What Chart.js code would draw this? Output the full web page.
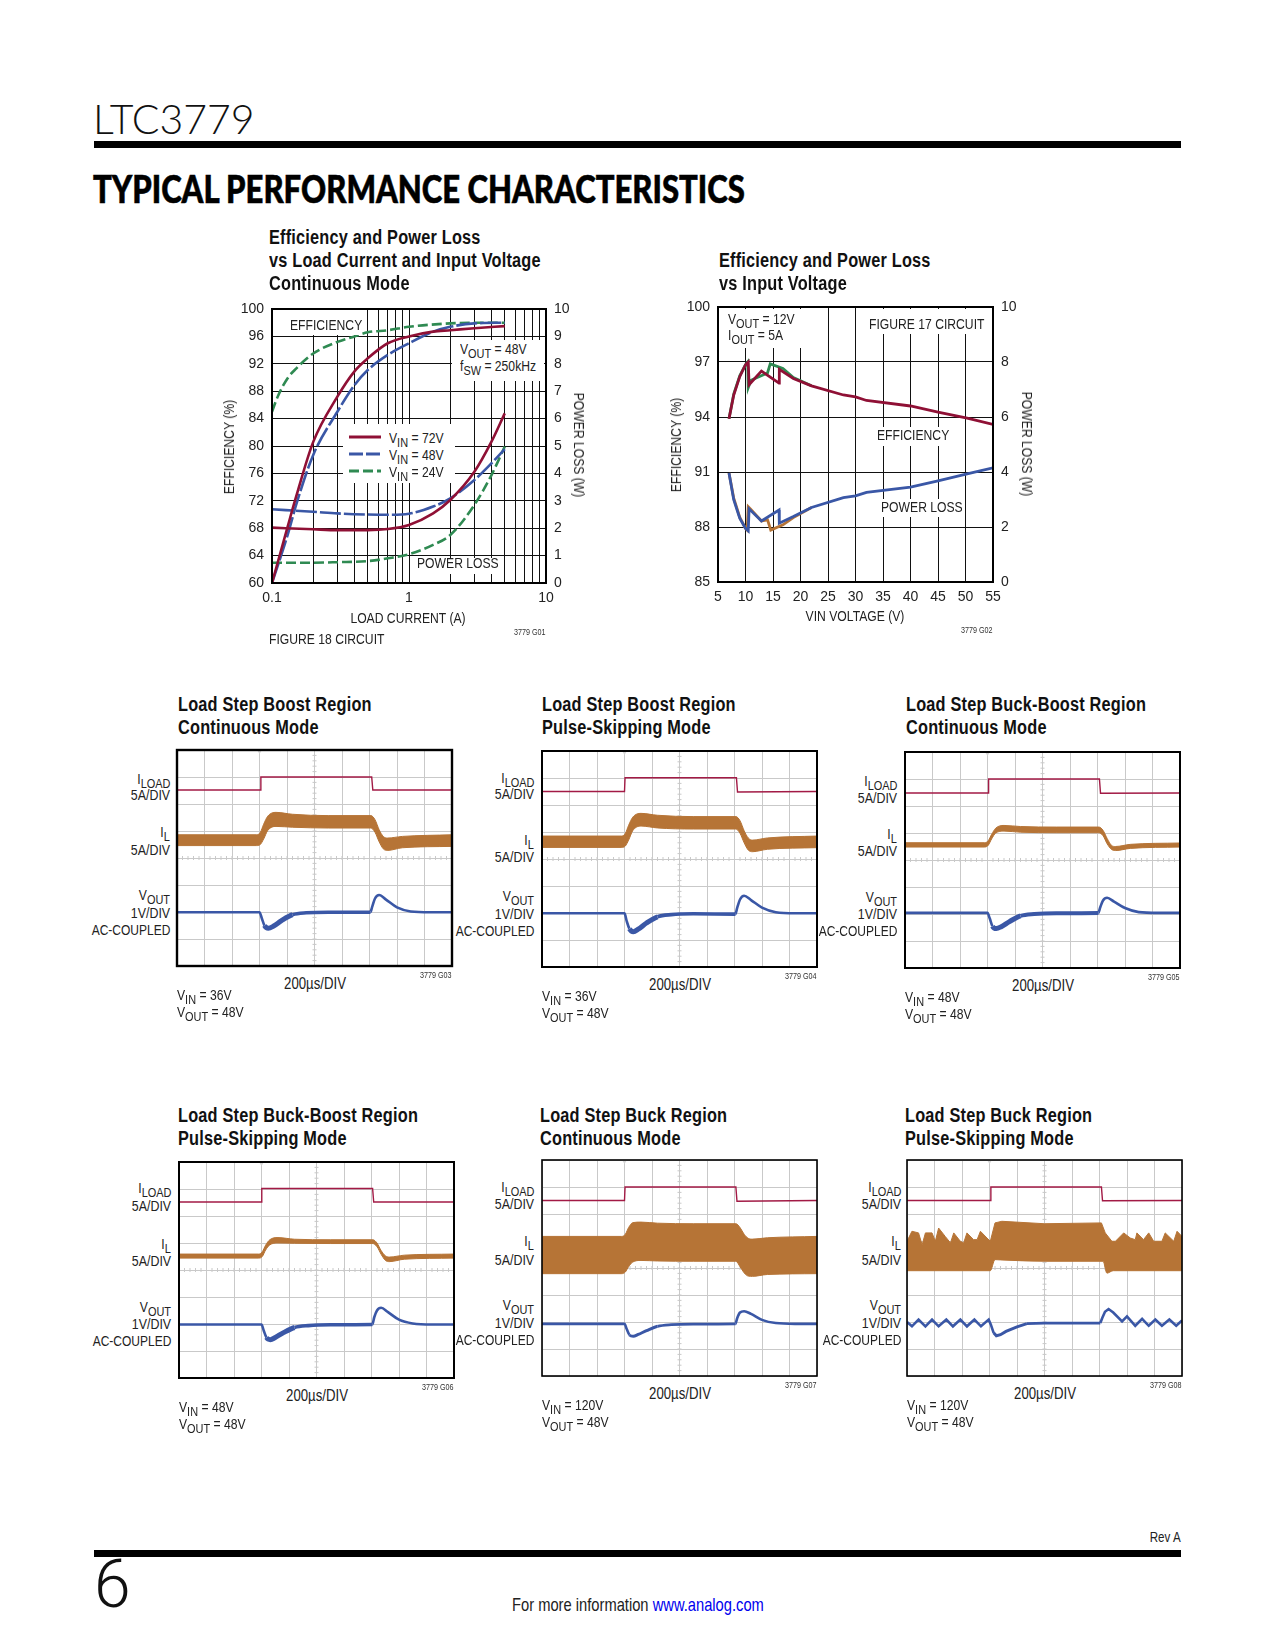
<!DOCTYPE html>
<html>
<head>
<meta charset="utf-8">
<title>LTC3779</title>
<script src="https://cdn.jsdelivr.net/npm/chart.js@4"></script>
<style>
  html, body { margin: 0; padding: 0; background: #fff; }
  #page { position: relative; width: 1275px; height: 1650px; overflow: hidden; background: #fff; color: #222;
          font-family: "Liberation Sans", sans-serif; }
  #page canvas { position: absolute; }
  .t { position: absolute; white-space: nowrap; font-size: 15.2px; line-height: 16px; height: 16px; }
  .title { font-weight: bold; font-size: 20px; line-height: 23px; height: 23px; color: #111; letter-spacing: .25px; }
  .small { font-size: 9px; color: #333; }
  .box { position: absolute; background: #fff; }
  .bar { position: absolute; background: #000; left: 94px; width: 1087px; height: 7px; }
  sub { font-size: .9em; vertical-align: -0.28em; line-height: 0; }
</style>
</head>
<body>
<div id="page"></div>
<script>
// ---- efficiency vs load current (G01) ----
const g01_grid_x = [0.1, 0.2, 0.3, 0.4, 0.5, 0.6, 0.7, 0.8, 0.9, 1, 2, 3, 4, 5, 6, 7, 8, 9, 10];
const g01_labels_x = [0.1, 1, 10];
const g01_eff_72_x = [0.1, 0.13, 0.15, 0.2, 0.3, 0.4, 0.5, 0.7, 1, 1.5, 2, 3, 5];
const g01_eff_72 = [60, 68.2, 72.6, 80.6, 87.2, 90.9, 92.8, 95, 96, 96.7, 96.9, 97.2, 97.5];
const g01_eff_48_x = [0.1, 0.13, 0.15, 0.2, 0.3, 0.4, 0.5, 0.7, 1, 1.5, 2, 3, 5];
const g01_eff_48 = [60, 67, 71.4, 78.7, 85, 88.9, 91.1, 93.3, 95, 96.7, 97.4, 97.9, 98];
const g01_eff_24_x = [0.1, 0.11, 0.13, 0.15, 0.2, 0.3, 0.4, 0.5, 0.7, 1, 2, 3, 5];
const g01_eff_24 = [85, 87.2, 89.9, 91.3, 93.5, 95.2, 96, 96.6, 96.9, 97.4, 97.9, 98, 98];
const g01_loss_x = [0.1, 0.2, 0.3, 0.5, 0.7, 1, 1.5, 2, 3, 4, 5];
const g01_loss_72 = [2.02, 1.96, 1.93, 1.93, 1.97, 2.12, 2.54, 3.03, 4.06, 5.16, 6.19];
const g01_loss_48 = [2.69, 2.6, 2.54, 2.5, 2.49, 2.53, 2.79, 3.09, 3.76, 4.37, 4.89];
const g01_loss_24 = [0.74, 0.74, 0.76, 0.8, 0.9, 1.05, 1.39, 1.75, 2.85, 3.94, 4.98];

// ---- efficiency vs input voltage (G02) ----
const g02_eff_x = [7, 7.86, 8.95, 10, 10.5, 10.65, 12.9, 16.1, 16.15, 18.7, 22, 27.8, 30, 32, 40, 45, 50.3, 55];
const g02_eff = [93.9, 95.2, 96.2, 96.85, 97, 95.76, 96.5, 95.85, 96.6, 96.1, 95.7, 95.2, 95.1, 94.9, 94.6, 94.27, 93.94, 93.6];
const g02_eff_alt_x = [7, 7.86, 8.95, 10, 10.4, 10.5, 11, 14, 14.5, 16.8, 18.7, 22];
const g02_eff_alt = [93.9, 95.25, 96.25, 96.85, 97, 95.6, 96, 96.4, 96.9, 96.65, 96.15, 95.7];
const g02_loss_x = [7, 7.86, 8.95, 10, 10.5, 10.65, 12.9, 16.1, 16.15, 18.7, 22, 27.8, 30, 32, 40, 45, 50.3, 55];
const g02_loss = [3.96, 2.99, 2.32, 1.95, 1.86, 2.66, 2.22, 2.62, 2.14, 2.38, 2.71, 3.07, 3.13, 3.26, 3.45, 3.68, 3.93, 4.15];
const g02_loss_alt_x = [7, 7.86, 8.95, 10, 10.3, 10.5, 10.9, 12.9, 14, 14.6, 16.8, 18.7, 22];
const g02_loss_alt = [3.96, 3.05, 2.36, 1.95, 1.89, 2.74, 2.66, 2.22, 2.26, 1.89, 2.08, 2.34, 2.71];

// ---- load step scope shots, x and y in divisions ----
const il_x = [0, 2.9, 3.03, 3.15, 3.3, 3.6, 4.2, 5.5, 7.05, 7.2, 7.35, 7.5, 7.65, 8.2, 10];
const vout_x = [0, 3, 3.08, 3.18, 3.32, 3.5, 3.8, 4.2, 4.7, 5.5, 7.03, 7.1, 7.2, 7.35, 7.6, 8, 8.5, 9.2, 10];

const g03_iload_x = [0, 3.03, 3.05, 7.08, 7.12, 10];
const g03_iload = [6.52, 6.52, 7, 7, 6.52, 6.52];
const g03_il_hi = [4.86, 4.86, 4.95, 5.25, 5.55, 5.69, 5.62, 5.57, 5.57, 5.42, 5.05, 4.8, 4.74, 4.8, 4.86];
const g03_il_lo = [4.46, 4.46, 4.5, 4.7, 5.02, 5.17, 5.14, 5.11, 5.11, 4.95, 4.6, 4.34, 4.28, 4.38, 4.43];
const g03_vout = [1.99, 1.99, 1.78, 1.5, 1.4, 1.47, 1.68, 1.9, 1.97, 1.99, 1.99, 2.2, 2.5, 2.63, 2.46, 2.17, 2.02, 1.99, 1.99];

const g04_iload_x = [0, 3, 3.02, 7.07, 7.11, 10];
const g04_iload = [6.5, 6.5, 7.01, 7.01, 6.48, 6.5];
const g04_il_hi = [4.85, 4.85, 4.95, 5.25, 5.55, 5.69, 5.62, 5.57, 5.57, 5.42, 5.05, 4.78, 4.7, 4.78, 4.85];
const g04_il_lo = [4.43, 4.43, 4.48, 4.7, 5.05, 5.22, 5.15, 5.11, 5.11, 4.95, 4.6, 4.33, 4.27, 4.36, 4.42];
const g04_vout = [1.99, 1.99, 1.7, 1.42, 1.31, 1.4, 1.63, 1.86, 1.94, 1.97, 1.96, 2.2, 2.5, 2.64, 2.48, 2.2, 2.03, 1.99, 1.99];

const g05_iload_x = [0, 3.02, 3.04, 7.07, 7.11, 10];
const g05_iload = [6.48, 6.48, 7, 7, 6.47, 6.48];
const g05_il_hi = [4.64, 4.64, 4.72, 4.95, 5.18, 5.28, 5.24, 5.22, 5.22, 5.1, 4.8, 4.55, 4.5, 4.58, 4.63];
const g05_il_lo = [4.48, 4.48, 4.55, 4.78, 5, 5.07, 5.03, 5.01, 5.01, 4.9, 4.6, 4.4, 4.35, 4.43, 4.48];
const g05_vout = [2.04, 2.04, 1.84, 1.55, 1.46, 1.53, 1.72, 1.93, 2, 2.03, 2.04, 2.25, 2.5, 2.6, 2.46, 2.22, 2.07, 2.04, 2.04];

const g06_iload_x = [0, 2.99, 3.01, 7.04, 7.08, 10];
const g06_iload = [6.52, 6.52, 7.02, 7.02, 6.52, 6.52];
const g06_il_hi = [4.59, 4.59, 4.68, 4.92, 5.12, 5.2, 5.14, 5.12, 5.12, 5, 4.72, 4.53, 4.48, 4.55, 4.59];
const g06_il_lo = [4.44, 4.44, 4.5, 4.74, 4.93, 5, 4.99, 4.98, 4.98, 4.86, 4.58, 4.36, 4.31, 4.4, 4.44];
const g06_vout = [1.98, 1.98, 1.76, 1.5, 1.42, 1.5, 1.68, 1.87, 1.94, 1.97, 1.98, 2.25, 2.5, 2.6, 2.44, 2.16, 2.02, 1.98, 1.98];

const g07_iload_x = [0, 3, 3.02, 7.05, 7.09, 10];
const g07_iload = [6.5, 6.5, 7, 7, 6.47, 6.5];
const g07_il_hi = [5.17, 5.17, 5.25, 5.5, 5.68, 5.7, 5.66, 5.64, 5.64, 5.5, 5.25, 5.1, 5.07, 5.12, 5.17];
const g07_il_lo = [3.79, 3.79, 3.85, 4.05, 4.22, 4.28, 4.26, 4.25, 4.25, 4.05, 3.82, 3.7, 3.69, 3.76, 3.79];
const g07_vout = [1.93, 1.93, 1.74, 1.52, 1.47, 1.54, 1.68, 1.84, 1.9, 1.92, 1.93, 2.15, 2.35, 2.4, 2.3, 2.08, 1.96, 1.93, 1.93];

const g08_iload_x = [0, 3.03, 3.05, 7.07, 7.11, 10];
const g08_iload = [6.5, 6.5, 7, 7, 6.49, 6.5];
const g08_il_hi_x = [0, .18, .42, .55, .67, .91, 1.03, 1.15, 1.39, 1.58, 1.7, 1.94, 2.06, 2.18, 2.42, 2.55, 2.67, 2.91, 3.03, 3.2, 3.45, 5, 7.07, 7.21, 7.45, 7.58, 7.88, 8.12, 8.3, 8.36, 8.6, 8.79, 8.97, 9.27, 9.39, 9.7, 9.82, 10];
const g08_il_hi = [4.99, 5.36, 5.3, 4.86, 5.3, 5.3, 4.99, 5.48, 5.17, 4.93, 5.3, 4.99, 4.93, 5.3, 5.05, 5.05, 5.36, 5.11, 4.99, 5.67, 5.73, 5.64, 5.67, 5.3, 4.99, 4.99, 5.3, 5.11, 5.05, 5.3, 5.05, 5.3, 4.99, 4.99, 5.3, 4.99, 5.36, 5.17];
const g08_il_lo_x = [0, 3.03, 3.2, 3.4, 5, 7.13, 7.27, 7.5, 10];
const g08_il_lo = [3.9, 3.9, 4.31, 4.3, 4.25, 4.25, 3.81, 3.9, 3.9];
const g08_vout_x = [0, .18, .42, .67, .91, 1.15, 1.43, 1.67, 1.94, 2.18, 2.45, 2.69, 2.97, 3.05, 3.15, 3.25, 3.4, 3.6, 4, 4.36, 5, 7.03, 7.1, 7.2, 7.33, 7.5, 7.82, 8, 8.3, 8.55, 8.79, 9.03, 9.27, 9.54, 9.79, 10];
const g08_vout = [2, 1.84, 2.09, 1.84, 2.09, 1.84, 2.09, 1.84, 2.09, 1.84, 2.09, 1.84, 2.09, 1.9, 1.6, 1.49, 1.53, 1.65, 1.82, 1.94, 1.96, 1.96, 2.15, 2.38, 2.48, 2.35, 2.02, 2.21, 1.86, 2.12, 1.86, 2.09, 1.86, 2.09, 1.86, 2.06];

const RED = "#8f1035", BLUE = "#3a57a6", GREEN = "#2f8a52", ORANGE = "#b67436", ILOAD_RED = "#a21a45", GRID = "#c9c9c9";
const NARROW = 0.8; // no narrow face installed, squeeze the sans instead
const page = document.getElementById("page");

Chart.defaults.font.family = '"Liberation Sans", sans-serif';
Chart.defaults.font.size = 14;
Chart.defaults.color = "#222";
Chart.defaults.animation = false;
Chart.defaults.responsive = false;
Chart.defaults.plugins.legend.display = false;
Chart.defaults.plugins.tooltip.enabled = false;

function pairs(xs, ys) {
  return xs.map((x, i) => ({ x: x, y: ys[i] }));
}

function label(html, x, y, opts) {
  opts = opts || {};
  const d = document.createElement("div");
  d.className = "t " + (opts.cls || "");
  d.innerHTML = html;
  const lh = opts.cls == "title" ? 23 : 16;
  const sx = "scaleX(" + (opts.cls == "title" ? 0.815 : NARROW) + ")";
  d.style.top = (y - lh / 2) + "px";
  if (opts.rotate) {
    d.style.left = x + "px";
    d.style.transform = "translate(-50%,0) rotate(" + opts.rotate + "deg) " + sx;
  } else if (opts.align == "right") {
    d.style.right = (1275 - x) + "px";
    d.style.transformOrigin = "right center";
    d.style.transform = sx;
  } else if (opts.align == "center") {
    d.style.left = x + "px";
    d.style.transform = "translateX(-50%) " + sx;
  } else {
    d.style.left = x + "px";
    d.style.transformOrigin = "left center";
    d.style.transform = sx;
  }
  page.appendChild(d);
  return d;
}

function box(x0, y0, x1, y1) {
  const d = document.createElement("div");
  d.className = "box";
  d.style.cssText = "left:" + x0 + "px;top:" + y0 + "px;width:" + (x1 - x0) + "px;height:" + (y1 - y0) + "px";
  page.appendChild(d);
}

function addCanvas(x, y, w, h) {
  const c = document.createElement("canvas");
  c.width = w;
  c.height = h;
  c.style.left = x + "px";
  c.style.top = y + "px";
  page.appendChild(c);
  return c;
}

// border round the plot, the library only draws it per axis
const plotFrame = {
  id: "plotFrame",
  afterDraw(chart, args, opts) {
    const a = chart.chartArea, ctx = chart.ctx;
    ctx.save();
    ctx.strokeStyle = "#000";
    ctx.lineWidth = opts.width || 2;
    ctx.strokeRect(a.left, a.top, a.width, a.height);
    ctx.restore();
  },
};

// the small ticks on the centre cross of a scope graticule
const scopeCross = {
  id: "scopeCross",
  beforeDatasetsDraw(chart) {
    const xs = chart.scales.x, ys = chart.scales.y, ctx = chart.ctx;
    ctx.save();
    ctx.strokeStyle = GRID;
    ctx.lineWidth = 1;
    ctx.beginPath();
    for (let i = 1; i < 50; i++) {
      const px = xs.getPixelForValue(i / 5);
      ctx.moveTo(px, ys.getPixelForValue(4) - 2);
      ctx.lineTo(px, ys.getPixelForValue(4) + 2);
    }
    for (let i = 1; i < 40; i++) {
      const py = ys.getPixelForValue(i / 5);
      ctx.moveTo(xs.getPixelForValue(5) - 2, py);
      ctx.lineTo(xs.getPixelForValue(5) + 2, py);
    }
    ctx.stroke();
    // trigger mark
    const tx = xs.getPixelForValue(3), ty = ys.getPixelForValue(8);
    ctx.fillStyle = "#d5d5d5";
    ctx.beginPath();
    ctx.moveTo(tx - 2.5, ty);
    ctx.lineTo(tx + 2.5, ty);
    ctx.lineTo(tx, ty + 4);
    ctx.fill();
    ctx.restore();
  },
};

function lineSet(xs, ys, color, width, yAxis, extra) {
  return Object.assign({
    data: pairs(xs, ys),
    borderColor: color,
    borderWidth: width,
    pointRadius: 0,
    yAxisID: yAxis || "y",
    fill: false,
  }, extra || {});
}

// fixed axis boxes so the plot area lands where it should
function fixBox(s, key, size) {
  s[key] = size;
  s.paddingTop = 0;
  s.paddingBottom = 0;
  s.paddingLeft = 0;
  s.paddingRight = 0;
}

function plotAxes(frame, xScale, yMin, yMax, yStep, y2Max, y2Step) {
  const grid = { color: "#111", lineWidth: 1, drawTicks: false };
  return {
    x: Object.assign({
      grid: grid, border: { display: false },
      afterFit: (s) => fixBox(s, "height", frame.bottom),
    }, xScale),
    y: {
      position: "left", min: yMin, max: yMax, grid: grid, border: { display: false },
      ticks: { stepSize: yStep, padding: 8 },
      afterFit: (s) => fixBox(s, "width", frame.left),
    },
    y2: {
      position: "right", min: 0, max: y2Max, grid: { display: false, drawTicks: false }, border: { display: false },
      ticks: { stepSize: y2Step, padding: 8 },
      afterFit: (s) => fixBox(s, "width", frame.right),
    },
  };
}

// ---------- page furniture ----------
const head = label("LTC3779", 93, 120);
head.style.cssText += ";font-family:Lato,'Open Sans',sans-serif;font-weight:300;font-size:41px;color:#111;line-height:42px;height:42px;top:98px;transform:none;";
const bar1 = document.createElement("div");
bar1.className = "bar";
bar1.style.top = "141px";
page.appendChild(bar1);
const heading = label("TYPICAL PERFORMANCE CHARACTERISTICS", 93, 188);
heading.style.cssText += ";font-family:Lato,'Open Sans',sans-serif;font-weight:900;font-size:37px;color:#000;line-height:37px;height:37px;top:170px;transform-origin:left center;transform:scaleX(.84);-webkit-text-stroke:.6px #000;";
const bar2 = document.createElement("div");
bar2.className = "bar";
bar2.style.top = "1550px";
page.appendChild(bar2);
label("Rev A", 1181, 1537, { align: "right" }).style.fontSize = "14.5px";
const pageNo = label("6", 94, 1585);
pageNo.style.cssText += ";font-family:Roboto,sans-serif;font-size:66px;line-height:66px;height:66px;top:1552px;color:#111;font-weight:300;transform:none;";
label('For more information <span style="color:#0000ee">www.analog.com</span>', 512, 1605).style.fontSize = "18.4px";

// ---------- G01 ----------
const g01 = { x: 272, y: 309, w: 274, h: 274 };
const g01_frame = { left: 45, right: 40, bottom: 30 };
new Chart(addCanvas(g01.x - 45, g01.y - 10, g01.w + 85, g01.h + 40), {
  type: "line",
  data: {
    datasets: [
      lineSet(g01_eff_72_x, g01_eff_72, RED, 2.6, "y", { cubicInterpolationMode: "monotone" }),
      lineSet(g01_loss_x, g01_loss_72, RED, 2.6, "y2", { cubicInterpolationMode: "monotone" }),
      lineSet(g01_eff_48_x, g01_eff_48, BLUE, 2.6, "y", { cubicInterpolationMode: "monotone", borderDash: [21, 3] }),
      lineSet(g01_loss_x, g01_loss_48, BLUE, 2.6, "y2", { cubicInterpolationMode: "monotone", borderDash: [21, 3] }),
      lineSet(g01_eff_24_x, g01_eff_24, GREEN, 2.6, "y", { cubicInterpolationMode: "monotone", borderDash: [10, 4] }),
      lineSet(g01_loss_x, g01_loss_24, GREEN, 2.6, "y2", { cubicInterpolationMode: "monotone", borderDash: [10, 4] }),
    ],
  },
  options: {
    layout: { padding: { top: 10 } },
    scales: plotAxes(g01_frame, {
      type: "logarithmic", min: 0.1, max: 10,
      ticks: {
        padding: 7, autoSkip: false, maxRotation: 0,
        callback: (v) => (g01_labels_x.includes(v) ? String(v) : ""),
      },
      afterBuildTicks: (s) => { s.ticks = g01_grid_x.map((v) => ({ value: v })); },
    }, 60, 100, 4, 10, 1),
    plugins: { plotFrame: { width: 2 } },
  },
  plugins: [plotFrame],
});
box(274, 310, 360, 335);
box(452, 340, 544, 381);
box(343, 424, 455, 483);
box(412, 558, 500, 574);
label("Efficiency and Power Loss", 269, 237, { cls: "title" });
label("vs Load Current and Input Voltage", 269, 260, { cls: "title" });
label("Continuous Mode", 269, 283, { cls: "title" });
label("EFFICIENCY", 290, 325);
label("V<sub>OUT</sub> = 48V", 460, 349);
label("f<sub>SW</sub> = 250kHz", 460, 366);
label("POWER LOSS", 417, 563);
label("V<sub>IN</sub> = 72V", 389, 438);
label("V<sub>IN</sub> = 48V", 389, 455);
label("V<sub>IN</sub> = 24V", 389, 472);
label("EFFICIENCY (%)", 229, 447, { rotate: -90 });
label("POWER LOSS (W)", 579, 445, { rotate: 90 });
label("LOAD CURRENT (A)", 408, 618, { align: "center" });
label("FIGURE 18 CIRCUIT", 269, 639);
label("3779 G01", 546, 632, { align: "right", cls: "small" });

// legend samples of G01
const legendSamples = [[RED, ""], [BLUE, "14 3"], [GREEN, "10 4"]];
legendSamples.forEach((s, i) => {
  const svg = document.createElementNS("http://www.w3.org/2000/svg", "svg");
  svg.setAttribute("width", "32");
  svg.setAttribute("height", "4");
  svg.style.cssText = "position:absolute;left:349px;top:" + (435 + i * 17) + "px";
  const ln = document.createElementNS("http://www.w3.org/2000/svg", "line");
  ln.setAttribute("x1", "0");
  ln.setAttribute("x2", "32");
  ln.setAttribute("y1", "2");
  ln.setAttribute("y2", "2");
  ln.setAttribute("stroke", s[0]);
  ln.setAttribute("stroke-width", "3");
  ln.setAttribute("stroke-dasharray", s[1]);
  svg.appendChild(ln);
  page.appendChild(svg);
});

// ---------- G02 ----------
const g02 = { x: 718, y: 307, w: 275, h: 275 };
const g02_frame = { left: 45, right: 40, bottom: 30 };
new Chart(addCanvas(g02.x - 45, g02.y - 10, g02.w + 85, g02.h + 40), {
  type: "line",
  data: {
    datasets: [
      lineSet(g02_loss_x, g02_loss, BLUE, 2.8, "y2"),
      lineSet(g02_eff_x, g02_eff, RED, 2.8, "y"),
      lineSet(g02_loss_alt_x, g02_loss_alt, ORANGE, 2.8, "y2"),
      lineSet(g02_eff_alt_x, g02_eff_alt, GREEN, 2.8, "y"),
    ],
  },
  options: {
    layout: { padding: { top: 10 } },
    scales: plotAxes(g02_frame, {
      type: "linear", min: 5, max: 55,
      ticks: { stepSize: 5, padding: 7, maxRotation: 0 },
    }, 85, 100, 3, 10, 2),
    plugins: { plotFrame: { width: 2 } },
  },
  plugins: [plotFrame],
});
box(720, 309, 803, 348);
box(865, 309, 991, 334);
box(873, 427, 948, 446);
box(878, 499, 964, 517);
label("Efficiency and Power Loss", 719, 260, { cls: "title" });
label("vs Input Voltage", 719, 283, { cls: "title" });
label("V<sub>OUT</sub> = 12V", 728, 319);
label("I<sub>OUT</sub> = 5A", 728, 335);
label("FIGURE 17 CIRCUIT", 869, 324);
label("EFFICIENCY", 877, 435);
label("POWER LOSS", 881, 507);
label("EFFICIENCY (%)", 676, 445, { rotate: -90 });
label("POWER LOSS (W)", 1027, 444, { rotate: 90 });
label("VIN VOLTAGE (V)", 855, 616, { align: "center" });
label("3779 G02", 993, 630, { align: "right", cls: "small" });

// ---------- scope shots ----------
function scope(p) {
  const pad = 2;
  new Chart(addCanvas(p.x - pad, p.y - pad, p.w + 2 * pad, p.h + 2 * pad), {
    type: "line",
    data: {
      datasets: [
        lineSet(p.iloadX, p.iload, ILOAD_RED, 1.4),
        lineSet(p.voutX, p.vout, BLUE, 2.6, "y", {
          cubicInterpolationMode: p.zigzag ? "default" : "monotone",
          // the trace is noisier, so wider, while the loop recovers from the step
          segment: {
            borderWidth: (c) => {
              const t = c.p0.parsed.x;
              if (t >= 3.1 && t < 4.2) return p.voutWide[0];
              if (t >= 4.2 && t < 7) return p.voutWide[1];
              return 2.6;
            },
          },
        }),
        lineSet(p.ilHiX, p.ilHi, ORANGE, 1, "y", {
          cubicInterpolationMode: p.zigzag ? "default" : "monotone",
          fill: "+1",
          backgroundColor: ORANGE,
        }),
        lineSet(p.ilLoX, p.ilLo, ORANGE, 1, "y", { cubicInterpolationMode: "monotone" }),
      ],
    },
    options: {
      layout: { padding: pad },
      scales: {
        x: {
          type: "linear", min: 0, max: 10,
          grid: { color: GRID, drawTicks: false }, border: { display: false },
          ticks: { stepSize: 1, display: false },
        },
        y: {
          min: 0, max: 8,
          grid: { color: GRID, drawTicks: false }, border: { display: false },
          ticks: { stepSize: 1, display: false },
        },
      },
      plugins: { plotFrame: { width: p.frame } },
    },
    plugins: [scopeCross, plotFrame],
  });

  const right = p.x - p.gap;
  p.title.forEach((line, i) => label(line, p.titleX, p.titleY + i * 23, { cls: "title" }));
  label("I<sub>LOAD</sub>", right, p.y + p.rows[0] - 2, { align: "right" });
  label("5A/DIV", right, p.y + p.rows[1], { align: "right" }).style.fontSize = "15.5px";
  label("I<sub>L</sub>", right, p.y + p.rows[2] - 2, { align: "right" });
  label("5A/DIV", right, p.y + p.rows[3], { align: "right" }).style.fontSize = "15.5px";
  label("V<sub>OUT</sub>", right, p.y + p.rows[4] - 2, { align: "right" });
  label("1V/DIV", right, p.y + p.rows[5], { align: "right" }).style.fontSize = "15.5px";
  label("AC-COUPLED", right, p.y + p.rows[6], { align: "right" }).style.fontSize = "15px";
  label("200µs/DIV", p.x + p.w / 2, p.y + p.h + 17, { align: "center" }).style.fontSize = "16.5px";
  label(p.tag, p.x + p.w, p.y + p.h + 9, { align: "right", cls: "small" });
  label("V<sub>IN</sub> = " + p.vin, p.x, p.y + p.h + 29);
  label("V<sub>OUT</sub> = 48V", p.x, p.y + p.h + 46);
}

scope({
  x: 177, y: 750, w: 275, h: 216, frame: 2.4, gap: 7, tag: "3779 G03", vin: "36V", voutWide: [5, 3.6],
  title: ["Load Step Boost Region", "Continuous Mode"], titleX: 178, titleY: 704,
  rows: [31, 45, 84, 100, 147, 163, 180],
  iloadX: g03_iload_x, iload: g03_iload, ilHiX: il_x, ilHi: g03_il_hi, ilLoX: il_x, ilLo: g03_il_lo, voutX: vout_x, vout: g03_vout,
});
scope({
  x: 542, y: 751, w: 275, h: 216, frame: 2, gap: 8, tag: "3779 G04", vin: "36V", voutWide: [5, 3.6],
  title: ["Load Step Boost Region", "Pulse-Skipping Mode"], titleX: 542, titleY: 704,
  rows: [29, 43, 91, 106, 147, 163, 180],
  iloadX: g04_iload_x, iload: g04_iload, ilHiX: il_x, ilHi: g04_il_hi, ilLoX: il_x, ilLo: g04_il_lo, voutX: vout_x, vout: g04_vout,
});
scope({
  x: 905, y: 752, w: 275, h: 216, frame: 2, gap: 8, tag: "3779 G05", vin: "48V", voutWide: [5, 4],
  title: ["Load Step Buck-Boost Region", "Continuous Mode"], titleX: 906, titleY: 704,
  rows: [31, 46, 84, 99, 147, 162, 179],
  iloadX: g05_iload_x, iload: g05_iload, ilHiX: il_x, ilHi: g05_il_hi, ilLoX: il_x, ilLo: g05_il_lo, voutX: vout_x, vout: g05_vout,
});
scope({
  x: 179, y: 1162, w: 275, h: 216, frame: 2, gap: 8, tag: "3779 G06", vin: "48V", voutWide: [5, 3.6],
  title: ["Load Step Buck-Boost Region", "Pulse-Skipping Mode"], titleX: 178, titleY: 1115,
  rows: [28, 44, 84, 99, 147, 162, 179],
  iloadX: g06_iload_x, iload: g06_iload, ilHiX: il_x, ilHi: g06_il_hi, ilLoX: il_x, ilLo: g06_il_lo, voutX: vout_x, vout: g06_vout,
});
scope({
  x: 542, y: 1160, w: 275, h: 216, frame: 1.6, gap: 8, tag: "3779 G07", vin: "120V", voutWide: [3, 2.8],
  title: ["Load Step Buck Region", "Continuous Mode"], titleX: 540, titleY: 1115,
  rows: [29, 44, 83, 100, 147, 163, 180],
  iloadX: g07_iload_x, iload: g07_iload, ilHiX: il_x, ilHi: g07_il_hi, ilLoX: il_x, ilLo: g07_il_lo, voutX: vout_x, vout: g07_vout,
});
scope({
  x: 907, y: 1160, w: 275, h: 216, frame: 1.6, gap: 6, tag: "3779 G08", vin: "120V", zigzag: true, voutWide: [3, 2.8],
  title: ["Load Step Buck Region", "Pulse-Skipping Mode"], titleX: 905, titleY: 1115,
  rows: [29, 44, 83, 100, 147, 163, 180],
  iloadX: g08_iload_x, iload: g08_iload, ilHiX: g08_il_hi_x, ilHi: g08_il_hi, ilLoX: g08_il_lo_x, ilLo: g08_il_lo, voutX: g08_vout_x, vout: g08_vout,
});
</script>
</body>
</html>
